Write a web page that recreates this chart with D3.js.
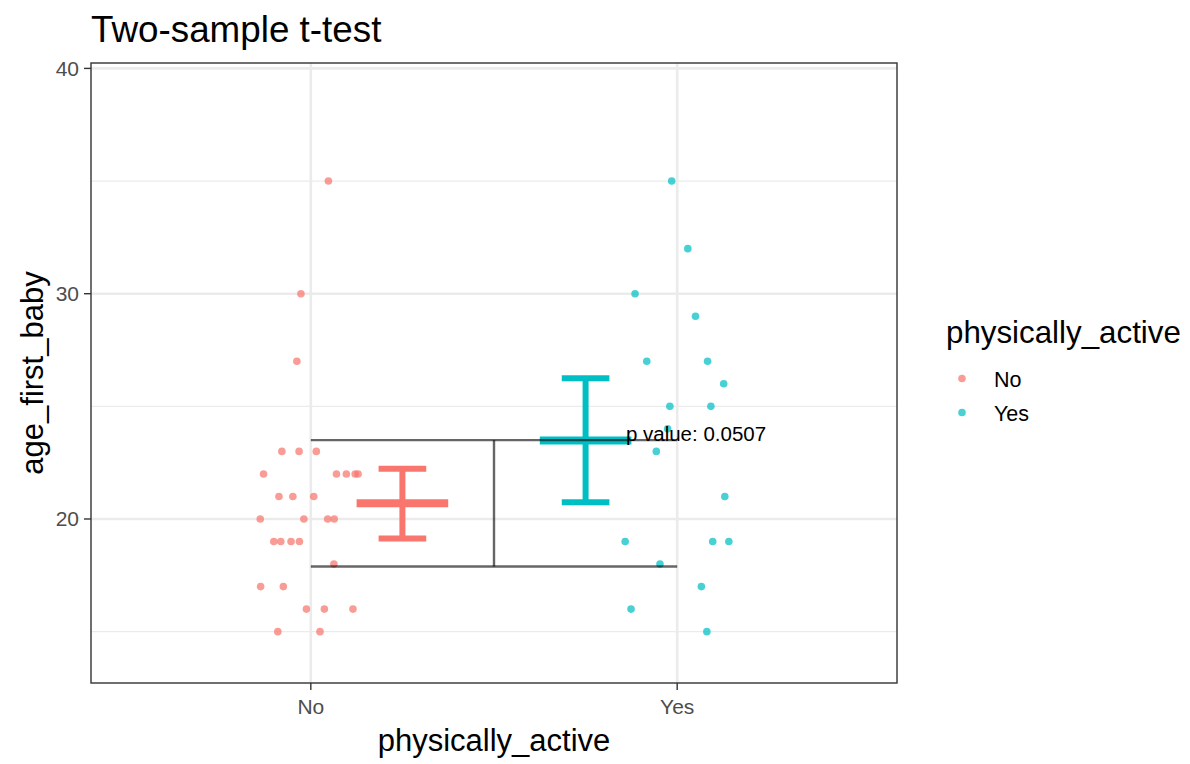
<!DOCTYPE html>
<html>
<head>
<meta charset="utf-8">
<script src="https://cdn.jsdelivr.net/npm/d3@7"></script>
<style>
    body { margin: 0; background: #fff; }
    text { font-family: "Liberation Sans", Arial, sans-serif; }
</style>
</head>
<body>
<div id="chart"></div>
<script>
// data
var groups = ["No", "Yes"];
var groupColors = ["#F8766D", "#00BFC4"];

// age_first_baby for each point, with its jittered x offset from the category
var noAge = [35, 30, 27, 23, 23, 23, 22, 22, 22, 22, 22, 21, 21, 21, 20, 20, 20, 20, 19, 19, 19, 19, 18, 17, 17, 16, 16, 16, 15, 15];
var noJitter = [0.048, -0.027, -0.038, -0.079, -0.032, 0.015, -0.129, 0.070, 0.097, 0.121, 0.129, -0.087, -0.049, 0.008, -0.138, -0.019, 0.046, 0.064, -0.101, -0.082, -0.054, -0.031, 0.063, -0.137, -0.075, -0.012, 0.037, 0.115, -0.090, 0.025];
var yesAge = [35, 32, 30, 29, 27, 27, 26, 25, 25, 24, 23, 21, 19, 19, 19, 18, 17, 16, 15];
var yesJitter = [-0.015, 0.029, -0.115, 0.050, -0.083, 0.083, 0.127, -0.020, 0.092, -0.026, -0.057, 0.130, -0.142, 0.097, 0.141, -0.047, 0.066, -0.126, 0.081];

// error bars (mean, lower, upper), drawn nudged toward the middle
var barMean = [20.70, 23.48];
var barLow = [19.13, 20.74];
var barHigh = [22.23, 26.25];
var barNudge = [0.25, -0.25];

// bracket for the test
var bracketTop = 23.5;
var bracketBottom = 17.89;
var pLabel = "p value: 0.0507";

var yTicks = [20, 30, 40];
var yMinor = [15, 25, 35];

var width = 1190, height = 764;
var panel = { left: 91, right: 897, top: 63, bottom: 683 };

var svg = d3.select("#chart").append("svg")
    .attr("width", width)
    .attr("height", height);

var x = d3.scaleLinear().domain([0.4, 2.6]).range([panel.left, panel.right]);
var y = d3.scaleLinear().domain([12.72, 40.24]).range([panel.bottom, panel.top]);

// grid
var grid = svg.append("g");
grid.selectAll(".minor").data(yMinor).enter().append("line")
    .attr("x1", panel.left).attr("x2", panel.right)
    .attr("y1", function (d) { return y(d); }).attr("y2", function (d) { return y(d); })
    .attr("stroke", "#EBEBEB").attr("stroke-width", 1.3);
grid.selectAll(".major").data(yTicks).enter().append("line")
    .attr("x1", panel.left).attr("x2", panel.right)
    .attr("y1", function (d) { return y(d); }).attr("y2", function (d) { return y(d); })
    .attr("stroke", "#EBEBEB").attr("stroke-width", 2.6);
grid.selectAll(".xmajor").data(groups).enter().append("line")
    .attr("x1", function (d, i) { return x(i + 1); }).attr("x2", function (d, i) { return x(i + 1); })
    .attr("y1", panel.top).attr("y2", panel.bottom)
    .attr("stroke", "#EBEBEB").attr("stroke-width", 2.6);

// points
var pts = svg.append("g");
pts.selectAll(".no").data(noAge).enter().append("circle")
    .attr("cx", function (d, i) { return x(1 + noJitter[i]); })
    .attr("cy", function (d) { return y(d); })
    .attr("r", 3.8)
    .attr("fill", groupColors[0]).attr("fill-opacity", 0.72);
pts.selectAll(".yes").data(yesAge).enter().append("circle")
    .attr("cx", function (d, i) { return x(2 + yesJitter[i]); })
    .attr("cy", function (d) { return y(d); })
    .attr("r", 3.8)
    .attr("fill", groupColors[1]).attr("fill-opacity", 0.72);

// error bars
var bars = svg.append("g");
groups.forEach(function (g, i) {
    var cx = i + 1 + barNudge[i];
    var col = groupColors[i];
    var b = bars.append("g").attr("stroke", col);
    b.append("line")
        .attr("x1", x(cx)).attr("x2", x(cx))
        .attr("y1", y(barLow[i])).attr("y2", y(barHigh[i]))
        .attr("stroke-width", 6);
    [barLow[i], barHigh[i]].forEach(function (v) {
        b.append("line")
            .attr("x1", x(cx - 0.065)).attr("x2", x(cx + 0.065))
            .attr("y1", y(v)).attr("y2", y(v))
            .attr("stroke-width", 6);
    });
    b.append("line")
        .attr("x1", x(cx - 0.125)).attr("x2", x(cx + 0.125))
        .attr("y1", y(barMean[i])).attr("y2", y(barMean[i]))
        .attr("stroke-width", 8);
});

// bracket
var br = svg.append("g").attr("stroke", "#000").attr("stroke-opacity", 0.6).attr("stroke-width", 2.4);
[bracketTop, bracketBottom].forEach(function (v) {
    br.append("line")
        .attr("x1", x(1)).attr("x2", x(2))
        .attr("y1", y(v)).attr("y2", y(v));
});
br.append("line")
    .attr("x1", x(1.5)).attr("x2", x(1.5))
    .attr("y1", y(bracketTop)).attr("y2", y(bracketBottom));

svg.append("text")
    .attr("x", x(1.86)).attr("y", y(bracketTop) + 0.5)
    .attr("font-size", 20.5).attr("fill", "#000")
    .text(pLabel);

// panel border
svg.append("rect")
    .attr("x", panel.left).attr("y", panel.top)
    .attr("width", panel.right - panel.left).attr("height", panel.bottom - panel.top)
    .attr("fill", "none").attr("stroke", "#333").attr("stroke-width", 1.4);

// axes
var yAxis = svg.append("g");
yAxis.selectAll("line").data(yTicks).enter().append("line")
    .attr("x1", panel.left - 7).attr("x2", panel.left)
    .attr("y1", function (d) { return y(d); }).attr("y2", function (d) { return y(d); })
    .attr("stroke", "#333").attr("stroke-width", 1.4);
yAxis.selectAll("text").data(yTicks).enter().append("text")
    .attr("x", panel.left - 12)
    .attr("y", function (d) { return y(d); })
    .attr("dy", "0.35em")
    .attr("text-anchor", "end")
    .attr("font-size", 21).attr("fill", "#4D4D4D")
    .text(function (d) { return d; });

var xAxis = svg.append("g");
xAxis.selectAll("line").data(groups).enter().append("line")
    .attr("x1", function (d, i) { return x(i + 1); }).attr("x2", function (d, i) { return x(i + 1); })
    .attr("y1", panel.bottom).attr("y2", panel.bottom + 7)
    .attr("stroke", "#333").attr("stroke-width", 1.4);
xAxis.selectAll("text").data(groups).enter().append("text")
    .attr("x", function (d, i) { return x(i + 1); })
    .attr("y", 714)
    .attr("text-anchor", "middle")
    .attr("font-size", 21).attr("fill", "#4D4D4D")
    .text(function (d) { return d; });

// titles
svg.append("text")
    .attr("x", 91).attr("y", 42)
    .attr("font-size", 36.8).attr("fill", "#000")
    .text("Two-sample t-test");
svg.append("text")
    .attr("x", (panel.left + panel.right) / 2).attr("y", 751)
    .attr("text-anchor", "middle")
    .attr("font-size", 31).attr("fill", "#000")
    .text("physically_active");
svg.append("text")
    .attr("transform", "translate(43," + (panel.top + panel.bottom) / 2 + ") rotate(-90)")
    .attr("text-anchor", "middle")
    .attr("font-size", 31).attr("fill", "#000")
    .text("age_first_baby");

// legend
var lg = svg.append("g");
lg.append("text")
    .attr("x", 946).attr("y", 343)
    .attr("font-size", 31.3).attr("fill", "#000")
    .text("physically_active");
groups.forEach(function (g, i) {
    var cy = 378.5 + i * 34;
    lg.append("circle")
        .attr("cx", 962).attr("cy", cy).attr("r", 3.8)
        .attr("fill", groupColors[i]).attr("fill-opacity", 0.72);
    lg.append("text")
        .attr("x", 994).attr("y", cy + 8)
        .attr("font-size", 21.5).attr("fill", "#000")
        .text(g);
});
</script>
</body>
</html>
